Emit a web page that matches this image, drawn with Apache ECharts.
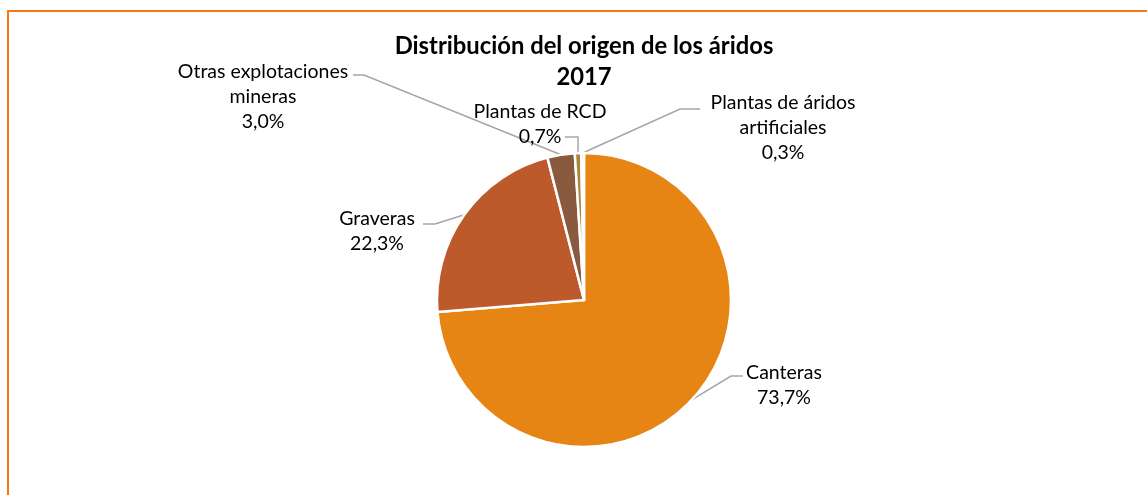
<!DOCTYPE html>
<html>
<head>
<meta charset="utf-8">
<script src="https://cdn.jsdelivr.net/npm/echarts@6/dist/echarts.min.js"></script>
<style>
html,body{margin:0;padding:0;background:#fff;}
#chart{width:1147px;height:495px;}
</style>
</head>
<body>
<div id="chart"></div>
<script>
var categories = ['Canteras', 'Graveras', 'Otras explotaciones mineras', 'Plantas de RCD', 'Plantas de áridos artificiales'];
var categoryLabels = ['Canteras', 'Graveras', 'Otras explotaciones\nmineras', 'Plantas de RCD', 'Plantas de áridos\nartificiales'];
var values = [73.7, 22.3, 3.0, 0.7, 0.3];
var colors = ['#E68514', '#BD5A2B', '#8A5A3F', '#A8853A', '#F2A65E'];
var titleLines = ['Distribución del origen de los áridos', '2017'];

// label placement (layout, not data)
var labelPos = [
  {x: 784, y: 385, line: [[731, 376], [743, 376]]},
  {x: 377, y: 231, line: [[435, 224], [423, 224]]},
  {x: 263, y: 97,  line: [[364, 75], [353, 75]]},
  {x: 540, y: 124, line: [[578, 137], [565, 137]]},
  {x: 783, y: 128, line: [[680, 109], [700, 109]]}
];

var chart = echarts.init(document.getElementById('chart'), null, {renderer: 'canvas'});
var fontFam = 'Lato, "Liberation Sans", sans-serif';

chart.setOption({
  animation: false,
  backgroundColor: '#fff',
  title: {
    text: titleLines.join('\n'),
    left: 584,
    textAlign: 'center',
    top: 31,
    padding: 0,
    textStyle: {fontFamily: fontFam, fontSize: 23.8, fontWeight: 'bold', color: '#000', lineHeight: 31}
  },
  graphic: [{
    type: 'rect',
    shape: {x: 8, y: 11, width: 1160, height: 520},
    style: {fill: 'none', stroke: '#FB7516', lineWidth: 2},
    silent: true
  }],
  series: [{
    type: 'pie',
    center: [584, 300],
    radius: 147,
    startAngle: 90,
    clockwise: true,
    avoidLabelOverlap: false,
    itemStyle: {borderColor: '#fff', borderWidth: 2.5},
    label: {
      show: true,
      formatter: function (p) {
        return categoryLabels[p.dataIndex] + '\n' + values[p.dataIndex].toFixed(1).replace('.', ',') + '%';
      },
      fontFamily: fontFam,
      fontSize: 19.5,
      lineHeight: 25,
      color: '#000',
      align: 'center'
    },
    labelLine: {show: true, lineStyle: {color: '#A6A6A6', width: 1.5}, smooth: false},
    labelLayout: function (params) {
      var lp = labelPos[params.dataIndex];
      var start = params.labelLinePoints ? params.labelLinePoints[0] : lp.line[0];
      return {
        x: lp.x, y: lp.y, align: 'center', verticalAlign: 'middle',
        labelLinePoints: [start, lp.line[0], lp.line[1]]
      };
    },
    data: categories.map(function (c, i) {
      return {name: c, value: values[i], itemStyle: {color: colors[i]}};
    })
  }]
});
</script>
</body>
</html>
